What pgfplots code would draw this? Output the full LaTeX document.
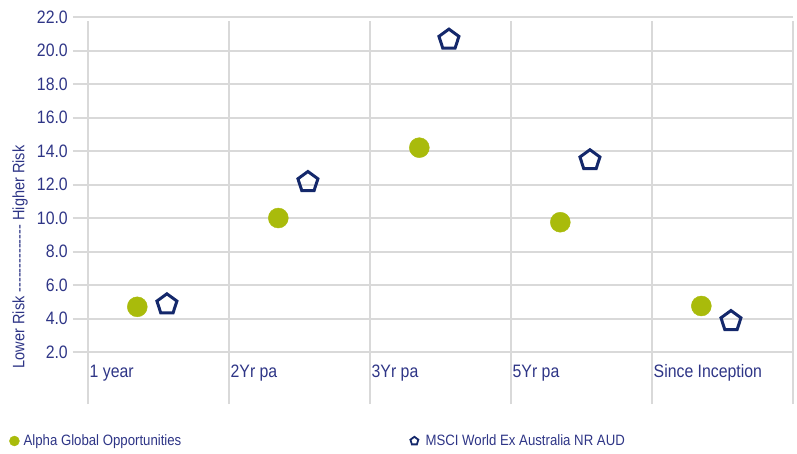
\documentclass[border=0pt]{standalone}
\usepackage{fontspec}
\setmainfont{Liberation Sans}[FakeStretch=0.88]
\usepackage{pgfplots}
\pgfplotsset{compat=1.18}

\definecolor{alphagreen}{HTML}{A9BB0B}
\definecolor{msciblue}{HTML}{14286B}
\definecolor{txtblue}{HTML}{2E3586}
\definecolor{gridgrey}{HTML}{D9D9D9}

\begin{document}
\begin{tikzpicture}
\begin{axis}[
  scale only axis,
  width=720bp, height=387bp,
  xmin=-0.106, xmax=5.0,
  ymin=-1.1, ymax=22,
  axis line style={draw=none},
  ytick={2,4,...,22},
  ymajorgrids,
  grid style={gridgrey, line width=2bp},
  major tick length=0pt,
  /pgf/number format/assume math mode=true,
  yticklabel={\pgfmathprintnumber[fixed,fixed zerofill,precision=1]{\tick}},
  yticklabel style={font=\fontsize{18bp}{20bp}\selectfont, text=txtblue, anchor=east, inner xsep=5bp},
  xtick={0,1,2,3,4},
  xticklabels={1 year,2Yr pa,3Yr pa,5Yr pa,Since Inception},
  xticklabel style={font=\fontsize{18bp}{20bp}\selectfont, text=txtblue, anchor=base west, inner xsep=1.5bp, yshift=27bp},
  ylabel={Lower Risk -{}-{}-{}-{}-{}-{}-{}-{}-{}-{}-{}-{}-{}- Higher Risk},
  ylabel style={at={(rel axis cs:-0.0736,0.38)}, anchor=center, font=\fontsize{16.5bp}{18bp}\selectfont, text=txtblue},
  clip=false,
  legend columns=2,
  legend style={at={(rel axis cs:-0.0930,-0.0956)}, anchor=west, draw=none, fill=none,
    font=\fontsize{15bp}{17bp}\selectfont, text=txtblue,
    nodes={inner sep=4bp},
    /tikz/every even column/.append style={column sep=225bp}},
]
\coordinate (O) at (rel axis cs:0,0);
\pgfplotsinvokeforeach{0,1,2,3,4,5}{
  \draw[gridgrey, line width=2bp] (axis cs:#1,-1.1) -- (axis cs:#1,21.75);
}
\addlegendimage{legend image code/.code={\fill[alphagreen] (0bp,0bp) circle (5bp);}}
\addlegendentry{Alpha Global Opportunities}
\addlegendimage{legend image code/.code={\path[draw=msciblue, line width=1.8bp] plot[only marks, mark=pentagon, mark size=4.2bp] coordinates {(0bp,0bp)}; \path (7bp,0bp);}}
\addlegendentry{MSCI World Ex Australia NR AUD}

\addplot[forget plot, only marks, mark=*, mark size=10bp, color=alphagreen] coordinates {
(0.35,4.7) (1.35,10.0) (2.35,14.2) (3.35,9.75) (4.35,4.75)
};
\addplot[forget plot, only marks, mark=pentagon, mark size=10.5bp, mark options={draw=msciblue, line width=3bp}] coordinates {
(0.56,4.85) (1.56,12.15) (2.56,20.65) (3.56,13.45) (4.56,3.85)
};
\end{axis}
\pgfresetboundingbox
\path[use as bounding box] ([shift={(-73bp,-50bp)}]O) rectangle ([shift={(724bp,404bp)}]O);
\end{tikzpicture}
\end{document}
